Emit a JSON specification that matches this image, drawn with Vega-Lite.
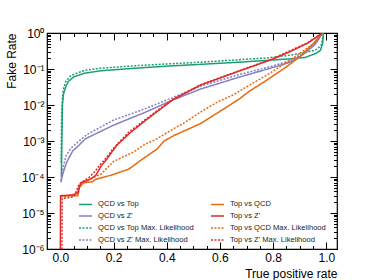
{
  "$schema": "https://vega.github.io/schema/vega-lite/v6.json",
  "autosize": {"type": "none"},
  "width": 290,
  "height": 216,
  "padding": {"left": 47, "top": 33, "right": 37, "bottom": 31},
  "background": "white",
  "config": {
    "view": {"stroke": "black", "strokeWidth": 1.2},
    "font": "Liberation Sans",
    "axis": {
      "domainColor": "black",
      "tickColor": "black",
      "labelColor": "black",
      "titleColor": "black",
      "labelFont": "Liberation Sans",
      "titleFont": "Liberation Sans",
      "labelFontSize": 12,
      "titleFontSize": 12,
      "titleFontWeight": "normal",
      "grid": false,
      "labelOverlap": false,
      "labelFlush": false
    }
  },
  "data": {
    "values": [
      {"s": "QCD vs Top", "x": 0.004, "y": 1e-4},
      {"s": "QCD vs Top", "x": 0.005, "y": 3.16e-4},
      {"s": "QCD vs Top", "x": 0.006, "y": 1e-3},
      {"s": "QCD vs Top", "x": 0.007, "y": 3.16e-3},
      {"s": "QCD vs Top", "x": 0.008, "y": 0.01},
      {"s": "QCD vs Top", "x": 0.012, "y": 0.02},
      {"s": "QCD vs Top", "x": 0.02, "y": 0.0316},
      {"s": "QCD vs Top", "x": 0.03, "y": 0.0447},
      {"s": "QCD vs Top", "x": 0.05, "y": 0.0603},
      {"s": "QCD vs Top", "x": 0.09, "y": 0.0759},
      {"s": "QCD vs Top", "x": 0.15, "y": 0.0891},
      {"s": "QCD vs Top", "x": 0.28, "y": 0.105},
      {"s": "QCD vs Top", "x": 0.4, "y": 0.12},
      {"s": "QCD vs Top", "x": 0.53, "y": 0.135},
      {"s": "QCD vs Top", "x": 0.675, "y": 0.155},
      {"s": "QCD vs Top", "x": 0.78, "y": 0.174},
      {"s": "QCD vs Top", "x": 0.86, "y": 0.191},
      {"s": "QCD vs Top", "x": 0.92, "y": 0.209},
      {"s": "QCD vs Top", "x": 0.96, "y": 0.269},
      {"s": "QCD vs Top", "x": 0.978, "y": 0.331},
      {"s": "QCD vs Top", "x": 0.986, "y": 0.525},
      {"s": "QCD vs Top", "x": 0.989, "y": 1},

      {"s": "QCD vs Top Max. Likelihood", "x": 0.003, "y": 2.5e-4},
      {"s": "QCD vs Top Max. Likelihood", "x": 0.004, "y": 1e-3},
      {"s": "QCD vs Top Max. Likelihood", "x": 0.005, "y": 6.3e-3},
      {"s": "QCD vs Top Max. Likelihood", "x": 0.008, "y": 0.0158},
      {"s": "QCD vs Top Max. Likelihood", "x": 0.012, "y": 0.0282},
      {"s": "QCD vs Top Max. Likelihood", "x": 0.02, "y": 0.0447},
      {"s": "QCD vs Top Max. Likelihood", "x": 0.04, "y": 0.0661},
      {"s": "QCD vs Top Max. Likelihood", "x": 0.09, "y": 0.0912},
      {"s": "QCD vs Top Max. Likelihood", "x": 0.15, "y": 0.105},
      {"s": "QCD vs Top Max. Likelihood", "x": 0.28, "y": 0.123},
      {"s": "QCD vs Top Max. Likelihood", "x": 0.4, "y": 0.138},
      {"s": "QCD vs Top Max. Likelihood", "x": 0.53, "y": 0.155},
      {"s": "QCD vs Top Max. Likelihood", "x": 0.675, "y": 0.182},
      {"s": "QCD vs Top Max. Likelihood", "x": 0.78, "y": 0.204},
      {"s": "QCD vs Top Max. Likelihood", "x": 0.86, "y": 0.24},
      {"s": "QCD vs Top Max. Likelihood", "x": 0.92, "y": 0.282},
      {"s": "QCD vs Top Max. Likelihood", "x": 0.96, "y": 0.339},
      {"s": "QCD vs Top Max. Likelihood", "x": 0.98, "y": 0.447},
      {"s": "QCD vs Top Max. Likelihood", "x": 0.99, "y": 1},

      {"s": "QCD vs Z'", "x": 0.002, "y": 7.08e-5},
      {"s": "QCD vs Z'", "x": 0.01, "y": 1.26e-4},
      {"s": "QCD vs Z'", "x": 0.022, "y": 2.34e-4},
      {"s": "QCD vs Z'", "x": 0.03, "y": 3.16e-4},
      {"s": "QCD vs Z'", "x": 0.047, "y": 5.37e-4},
      {"s": "QCD vs Z'", "x": 0.066, "y": 7.08e-4},
      {"s": "QCD vs Z'", "x": 0.094, "y": 1.15e-3},
      {"s": "QCD vs Z'", "x": 0.15, "y": 1.82e-3},
      {"s": "QCD vs Z'", "x": 0.197, "y": 2.69e-3},
      {"s": "QCD vs Z'", "x": 0.32, "y": 6.31e-3},
      {"s": "QCD vs Z'", "x": 0.42, "y": 0.0135},
      {"s": "QCD vs Z'", "x": 0.53, "y": 0.0282},
      {"s": "QCD vs Z'", "x": 0.675, "y": 0.0603},
      {"s": "QCD vs Z'", "x": 0.78, "y": 0.1},
      {"s": "QCD vs Z'", "x": 0.86, "y": 0.151},
      {"s": "QCD vs Z'", "x": 0.9, "y": 0.219},
      {"s": "QCD vs Z'", "x": 0.93, "y": 0.316},
      {"s": "QCD vs Z'", "x": 0.96, "y": 0.501},
      {"s": "QCD vs Z'", "x": 0.985, "y": 1},

      {"s": "QCD vs Z' Max. Likelihood", "x": 0.002, "y": 7.94e-5},
      {"s": "QCD vs Z' Max. Likelihood", "x": 0.01, "y": 1.78e-4},
      {"s": "QCD vs Z' Max. Likelihood", "x": 0.022, "y": 3.98e-4},
      {"s": "QCD vs Z' Max. Likelihood", "x": 0.04, "y": 6.31e-4},
      {"s": "QCD vs Z' Max. Likelihood", "x": 0.072, "y": 1.02e-3},
      {"s": "QCD vs Z' Max. Likelihood", "x": 0.1, "y": 1.51e-3},
      {"s": "QCD vs Z' Max. Likelihood", "x": 0.197, "y": 3.72e-3},
      {"s": "QCD vs Z' Max. Likelihood", "x": 0.32, "y": 7.94e-3},
      {"s": "QCD vs Z' Max. Likelihood", "x": 0.42, "y": 0.0158},
      {"s": "QCD vs Z' Max. Likelihood", "x": 0.53, "y": 0.0339},
      {"s": "QCD vs Z' Max. Likelihood", "x": 0.675, "y": 0.0708},
      {"s": "QCD vs Z' Max. Likelihood", "x": 0.78, "y": 0.112},
      {"s": "QCD vs Z' Max. Likelihood", "x": 0.86, "y": 0.166},
      {"s": "QCD vs Z' Max. Likelihood", "x": 0.9, "y": 0.234},
      {"s": "QCD vs Z' Max. Likelihood", "x": 0.93, "y": 0.331},
      {"s": "QCD vs Z' Max. Likelihood", "x": 0.96, "y": 0.525},
      {"s": "QCD vs Z' Max. Likelihood", "x": 0.985, "y": 1},

      {"s": "Top vs QCD", "x": 0.001, "y": 3.02e-5},
      {"s": "Top vs QCD", "x": 0.066, "y": 3.02e-5},
      {"s": "Top vs QCD", "x": 0.072, "y": 5.13e-5},
      {"s": "Top vs QCD", "x": 0.085, "y": 6.76e-5},
      {"s": "Top vs QCD", "x": 0.1, "y": 7.08e-5},
      {"s": "Top vs QCD", "x": 0.12, "y": 7.41e-5},
      {"s": "Top vs QCD", "x": 0.134, "y": 8.71e-5},
      {"s": "Top vs QCD", "x": 0.19, "y": 1.12e-4},
      {"s": "Top vs QCD", "x": 0.258, "y": 1.66e-4},
      {"s": "Top vs QCD", "x": 0.3, "y": 2.82e-4},
      {"s": "Top vs QCD", "x": 0.364, "y": 6.03e-4},
      {"s": "Top vs QCD", "x": 0.39, "y": 1.0e-3},
      {"s": "Top vs QCD", "x": 0.43, "y": 1.45e-3},
      {"s": "Top vs QCD", "x": 0.526, "y": 3.02e-3},
      {"s": "Top vs QCD", "x": 0.625, "y": 8.71e-3},
      {"s": "Top vs QCD", "x": 0.675, "y": 0.0151},
      {"s": "Top vs QCD", "x": 0.71, "y": 0.024},
      {"s": "Top vs QCD", "x": 0.776, "y": 0.049},
      {"s": "Top vs QCD", "x": 0.85, "y": 0.115},
      {"s": "Top vs QCD", "x": 0.9, "y": 0.219},
      {"s": "Top vs QCD", "x": 0.95, "y": 0.501},
      {"s": "Top vs QCD", "x": 0.985, "y": 1},

      {"s": "Top vs QCD Max. Likelihood", "x": 0.001, "y": 2.82e-5},
      {"s": "Top vs QCD Max. Likelihood", "x": 0.06, "y": 3.16e-5},
      {"s": "Top vs QCD Max. Likelihood", "x": 0.07, "y": 5.01e-5},
      {"s": "Top vs QCD Max. Likelihood", "x": 0.08, "y": 6.31e-5},
      {"s": "Top vs QCD Max. Likelihood", "x": 0.1, "y": 7.94e-5},
      {"s": "Top vs QCD Max. Likelihood", "x": 0.153, "y": 1.2e-4},
      {"s": "Top vs QCD Max. Likelihood", "x": 0.2, "y": 2.69e-4},
      {"s": "Top vs QCD Max. Likelihood", "x": 0.277, "y": 5.01e-4},
      {"s": "Top vs QCD Max. Likelihood", "x": 0.32, "y": 8.32e-4},
      {"s": "Top vs QCD Max. Likelihood", "x": 0.356, "y": 1.07e-3},
      {"s": "Top vs QCD Max. Likelihood", "x": 0.43, "y": 2.29e-3},
      {"s": "Top vs QCD Max. Likelihood", "x": 0.465, "y": 3.16e-3},
      {"s": "Top vs QCD Max. Likelihood", "x": 0.526, "y": 6.31e-3},
      {"s": "Top vs QCD Max. Likelihood", "x": 0.59, "y": 0.012},
      {"s": "Top vs QCD Max. Likelihood", "x": 0.65, "y": 0.0191},
      {"s": "Top vs QCD Max. Likelihood", "x": 0.71, "y": 0.0355},
      {"s": "Top vs QCD Max. Likelihood", "x": 0.776, "y": 0.0676},
      {"s": "Top vs QCD Max. Likelihood", "x": 0.85, "y": 0.151},
      {"s": "Top vs QCD Max. Likelihood", "x": 0.9, "y": 0.269},
      {"s": "Top vs QCD Max. Likelihood", "x": 0.96, "y": 0.562},
      {"s": "Top vs QCD Max. Likelihood", "x": 0.985, "y": 1},

      {"s": "Top vs Z'", "x": 0.0, "y": 5e-7},
      {"s": "Top vs Z'", "x": 0.001, "y": 3.02e-5},
      {"s": "Top vs Z'", "x": 0.04, "y": 3.16e-5},
      {"s": "Top vs Z'", "x": 0.066, "y": 3.55e-5},
      {"s": "Top vs Z'", "x": 0.07, "y": 5.01e-5},
      {"s": "Top vs Z'", "x": 0.078, "y": 7.08e-5},
      {"s": "Top vs Z'", "x": 0.1, "y": 7.94e-5},
      {"s": "Top vs Z'", "x": 0.115, "y": 8.91e-5},
      {"s": "Top vs Z'", "x": 0.134, "y": 1.12e-4},
      {"s": "Top vs Z'", "x": 0.153, "y": 2.0e-4},
      {"s": "Top vs Z'", "x": 0.175, "y": 3.16e-4},
      {"s": "Top vs Z'", "x": 0.197, "y": 5.37e-4},
      {"s": "Top vs Z'", "x": 0.215, "y": 7.94e-4},
      {"s": "Top vs Z'", "x": 0.258, "y": 1.58e-3},
      {"s": "Top vs Z'", "x": 0.32, "y": 3.72e-3},
      {"s": "Top vs Z'", "x": 0.42, "y": 0.0135},
      {"s": "Top vs Z'", "x": 0.526, "y": 0.0355},
      {"s": "Top vs Z'", "x": 0.675, "y": 0.0891},
      {"s": "Top vs Z'", "x": 0.79, "y": 0.178},
      {"s": "Top vs Z'", "x": 0.86, "y": 0.295},
      {"s": "Top vs Z'", "x": 0.93, "y": 0.525},
      {"s": "Top vs Z'", "x": 0.985, "y": 1},

      {"s": "Top vs Z' Max. Likelihood", "x": 0.006, "y": 5e-7},
      {"s": "Top vs Z' Max. Likelihood", "x": 0.007, "y": 2.51e-5},
      {"s": "Top vs Z' Max. Likelihood", "x": 0.05, "y": 2.82e-5},
      {"s": "Top vs Z' Max. Likelihood", "x": 0.06, "y": 3.98e-5},
      {"s": "Top vs Z' Max. Likelihood", "x": 0.07, "y": 6.31e-5},
      {"s": "Top vs Z' Max. Likelihood", "x": 0.09, "y": 7.94e-5},
      {"s": "Top vs Z' Max. Likelihood", "x": 0.11, "y": 1e-4},
      {"s": "Top vs Z' Max. Likelihood", "x": 0.13, "y": 1.41e-4},
      {"s": "Top vs Z' Max. Likelihood", "x": 0.15, "y": 2.24e-4},
      {"s": "Top vs Z' Max. Likelihood", "x": 0.175, "y": 3.55e-4},
      {"s": "Top vs Z' Max. Likelihood", "x": 0.197, "y": 6.03e-4},
      {"s": "Top vs Z' Max. Likelihood", "x": 0.258, "y": 1.78e-3},
      {"s": "Top vs Z' Max. Likelihood", "x": 0.32, "y": 3.98e-3},
      {"s": "Top vs Z' Max. Likelihood", "x": 0.42, "y": 0.0141},
      {"s": "Top vs Z' Max. Likelihood", "x": 0.526, "y": 0.0363},
      {"s": "Top vs Z' Max. Likelihood", "x": 0.675, "y": 0.0912},
      {"s": "Top vs Z' Max. Likelihood", "x": 0.79, "y": 0.182},
      {"s": "Top vs Z' Max. Likelihood", "x": 0.93, "y": 0.537},
      {"s": "Top vs Z' Max. Likelihood", "x": 0.985, "y": 1}
    ]
  },
  "resolve": {"axis": {"x": "independent", "y": "independent"}},
  "layer": [
    {
      "mark": {"type": "line", "strokeWidth": 1.5, "clip": true, "interpolate": "linear"},
      "encoding": {
        "x": {
          "field": "x", "type": "quantitative",
          "scale": {"domain": [-0.05, 1.04], "nice": false, "zero": false},
          "axis": {
            "orient": "bottom",
            "title": "True positive rate",
            "titleAnchor": "end",
            "titlePadding": 2,
            "values": [0, 0.05, 0.1, 0.15, 0.2, 0.25, 0.3, 0.35, 0.4, 0.45, 0.5, 0.55, 0.6, 0.65, 0.7, 0.75, 0.8, 0.85, 0.9, 0.95, 1.0],
            "format": ".1f",
            "labelExpr": "abs(datum.value*5 - round(datum.value*5)) < 0.001 ? datum.label : ''",
            "tickSize": {"condition": {"test": "abs(datum.value*5 - round(datum.value*5)) < 0.001", "value": -7}, "value": -3.5},
            "labelPadding": 10,
            "domain": false
          }
        },
        "y": {
          "field": "y", "type": "quantitative",
          "scale": {"type": "log", "domain": [1e-6, 1], "nice": false},
          "axis": {
            "orient": "left",
            "title": "Fake Rate",
            "titleAnchor": "end",
            "titlePadding": 3,
            "values": [1e-6, 2e-6, 3e-6, 4e-6, 5e-6, 6e-6, 7e-6, 8e-6, 9e-6, 1e-5, 2e-5, 3e-5, 4e-5, 5e-5, 6e-5, 7e-5, 8e-5, 9e-5, 1e-4, 2e-4, 3e-4, 4e-4, 5e-4, 6e-4, 7e-4, 8e-4, 9e-4, 1e-3, 2e-3, 3e-3, 4e-3, 5e-3, 6e-3, 7e-3, 8e-3, 9e-3, 0.01, 0.02, 0.03, 0.04, 0.05, 0.06, 0.07, 0.08, 0.09, 0.1, 0.2, 0.3, 0.4, 0.5, 0.6, 0.7, 0.8, 0.9, 1],
            "labelExpr": "abs(log(datum.value)/LN10 - round(log(datum.value)/LN10)) < 0.001 ? ['10⁻⁶','10⁻⁵','10⁻⁴','10⁻³','10⁻²','10⁻¹','10⁰'][round(log(datum.value)/LN10)+6] : ''",
            "tickSize": {"condition": {"test": "abs(log(datum.value)/LN10 - round(log(datum.value)/LN10)) < 0.001", "value": -7}, "value": -3.5},
            "labelPadding": 10,
            "domain": false
          }
        },
        "color": {
          "field": "s", "type": "nominal",
          "scale": {
            "domain": ["QCD vs Top", "QCD vs Z'", "QCD vs Top Max. Likelihood", "QCD vs Z' Max. Likelihood", "Top vs QCD", "Top vs Z'", "Top vs QCD Max. Likelihood", "Top vs Z' Max. Likelihood"],
            "range": ["#1b9e77", "#8480c4", "#1b9e77", "#8480c4", "#e8690e", "#e02a2a", "#e8690e", "#e02a2a"]
          },
          "legend": {
            "title": null,
            "orient": "none",
            "legendX": 31,
            "legendY": 163.5,
            "columns": 2,
            "columnPadding": 14,
            "rowPadding": -4,
            "padding": 0,
            "symbolType": "stroke",
            "symbolSize": 169,
            "symbolStrokeWidth": 1.5,
            "labelFontSize": 7.6,
            "labelFont": "Liberation Sans",
            "labelColor": "#222",
            "labelOffset": 5
          }
        },
        "strokeDash": {
          "field": "s", "type": "nominal",
          "scale": {
            "domain": ["QCD vs Top", "QCD vs Z'", "QCD vs Top Max. Likelihood", "QCD vs Z' Max. Likelihood", "Top vs QCD", "Top vs Z'", "Top vs QCD Max. Likelihood", "Top vs Z' Max. Likelihood"],
            "range": [[1, 0], [1, 0], [2, 1.5], [2, 1.5], [1, 0], [1, 0], [2, 1.5], [2, 1.5]]
          },
          "legend": null
        }
      }
    },
    {
      "mark": {"type": "point", "opacity": 0},
      "encoding": {
        "x": {
          "field": "x", "type": "quantitative",
          "axis": {
            "orient": "top", "title": null, "labels": false, "domain": false,
            "values": [0, 0.05, 0.1, 0.15, 0.2, 0.25, 0.3, 0.35, 0.4, 0.45, 0.5, 0.55, 0.6, 0.65, 0.7, 0.75, 0.8, 0.85, 0.9, 0.95, 1.0],
            "tickSize": {"condition": {"test": "abs(datum.value*5 - round(datum.value*5)) < 0.001", "value": -7}, "value": -3.5}
          }
        },
        "y": {
          "field": "y", "type": "quantitative",
          "axis": {
            "orient": "right", "title": null, "labels": false, "domain": false,
            "values": [1e-6, 2e-6, 3e-6, 4e-6, 5e-6, 6e-6, 7e-6, 8e-6, 9e-6, 1e-5, 2e-5, 3e-5, 4e-5, 5e-5, 6e-5, 7e-5, 8e-5, 9e-5, 1e-4, 2e-4, 3e-4, 4e-4, 5e-4, 6e-4, 7e-4, 8e-4, 9e-4, 1e-3, 2e-3, 3e-3, 4e-3, 5e-3, 6e-3, 7e-3, 8e-3, 9e-3, 0.01, 0.02, 0.03, 0.04, 0.05, 0.06, 0.07, 0.08, 0.09, 0.1, 0.2, 0.3, 0.4, 0.5, 0.6, 0.7, 0.8, 0.9, 1],
            "tickSize": {"condition": {"test": "abs(log(datum.value)/LN10 - round(log(datum.value)/LN10)) < 0.001", "value": -7}, "value": -3.5}
          }
        }
      }
    }
  ]
}
